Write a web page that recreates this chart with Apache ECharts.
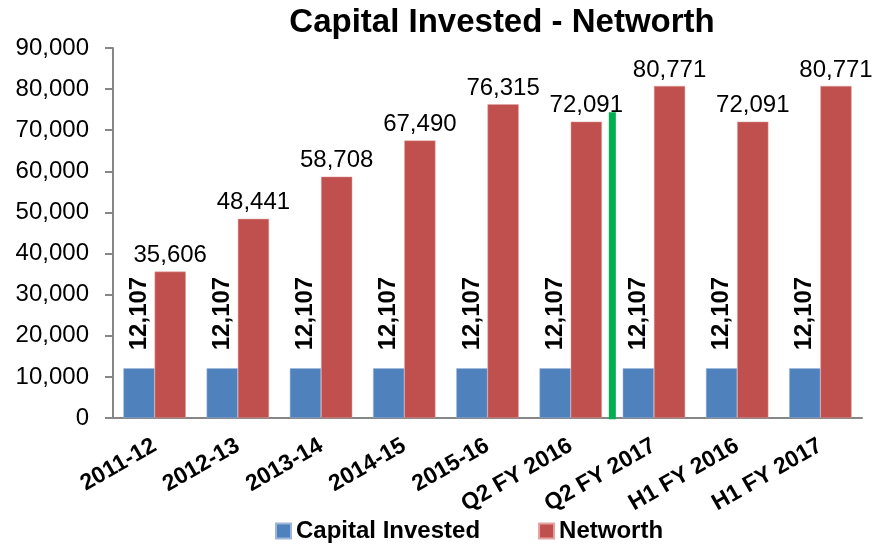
<!DOCTYPE html>
<html>
<head>
<meta charset="utf-8">
<script src="https://cdn.jsdelivr.net/npm/echarts@6/dist/echarts.min.js"></script>
<style>
  html, body { margin: 0; padding: 0; background: #fff; }
  #chart { width: 876px; height: 550px; }
</style>
</head>
<body>
<div id="chart"></div>
<script>
var categories = ['2011-12', '2012-13', '2013-14', '2014-15', '2015-16', 'Q2 FY 2016', 'Q2 FY 2017', 'H1 FY 2016', 'H1 FY 2017']
var capitalInvested = [12107, 12107, 12107, 12107, 12107, 12107, 12107, 12107, 12107]
var networth = [35606, 48441, 58708, 67490, 76315, 72091, 80771, 72091, 80771]
// green divider between the yearly and the half-year/quarter figures
var dividerLine = [[6, -300], [6, 74400]]

var font = 'Liberation Sans'
var mychart = echarts.init(document.getElementById('chart'))

var fmt = function (p) {
  return p.value.toLocaleString('en-US')
}

var option = {
  animation: false,
  title: {
    text: 'Capital Invested - Networth',
    left: 497,
    textAlign: 'center',
    top: 1,
    textStyle: { fontFamily: font, fontSize: 33, fontWeight: 'bold', color: '#000' },
  },
  legend: {
    bottom: 2,
    left: 270,
    itemWidth: 15,
    itemHeight: 15,
    itemGap: 58,
    icon: 'rect',
    textStyle: { fontFamily: font, fontSize: 24, fontWeight: 'bold', color: '#000' },
    data: ['Capital Invested', 'Networth'],
  },
  grid: { left: 113, right: 14, top: 48, bottom: 132 },
  xAxis: [
    {
      type: 'category',
      data: categories,
      axisLine: { lineStyle: { color: '#868686', width: 2 } },
      axisTick: { length: 7, lineStyle: { color: '#868686', width: 2 } },
      axisLabel: {
        interval: 0,
        rotate: 30,
        margin: 26,
        fontFamily: font,
        fontSize: 23,
        fontWeight: 'bold',
        color: '#000',
      },
    },
    {
      type: 'value',
      min: 0,
      max: 9,
      show: false,
    },
  ],
  yAxis: {
    type: 'value',
    min: 0,
    max: 90000,
    interval: 10000,
    axisLine: { show: true, lineStyle: { color: '#868686', width: 2 } },
    axisTick: { show: true, length: 8, lineStyle: { color: '#868686', width: 2 } },
    splitLine: { show: false },
    axisLabel: {
      margin: 24,
      fontFamily: font,
      fontSize: 24,
      color: '#000',
      formatter: function (v) { return v.toLocaleString('en-US') },
    },
  },
  series: [
    {
      name: 'Capital Invested',
      type: 'bar',
      data: capitalInvested,
      barGap: '0%',
      barCategoryGap: '25%',
      itemStyle: { color: '#4F81BD', borderColor: '#9DB6DA', borderWidth: 0.5 },
      label: {
        show: true,
        position: 'top',
        rotate: 90,
        align: 'left',
        verticalAlign: 'middle',
        distance: 18,
        formatter: fmt,
        fontFamily: font,
        fontSize: 24,
        fontWeight: 'bold',
        color: '#000',
      },
    },
    {
      name: 'Networth',
      type: 'bar',
      data: networth,
      itemStyle: { color: '#C0504D', borderColor: '#E3A3A1', borderWidth: 0.5 },
      label: {
        show: true,
        position: 'top',
        distance: 4,
        formatter: fmt,
        fontFamily: font,
        fontSize: 24,
        color: '#000',
      },
    },
    {
      name: 'divider',
      type: 'line',
      xAxisIndex: 1,
      data: dividerLine,
      symbol: 'none',
      lineStyle: { color: '#00B050', width: 7 },
      z: 5,
    },
  ],
}

mychart.setOption(option)
</script>
</body>
</html>
